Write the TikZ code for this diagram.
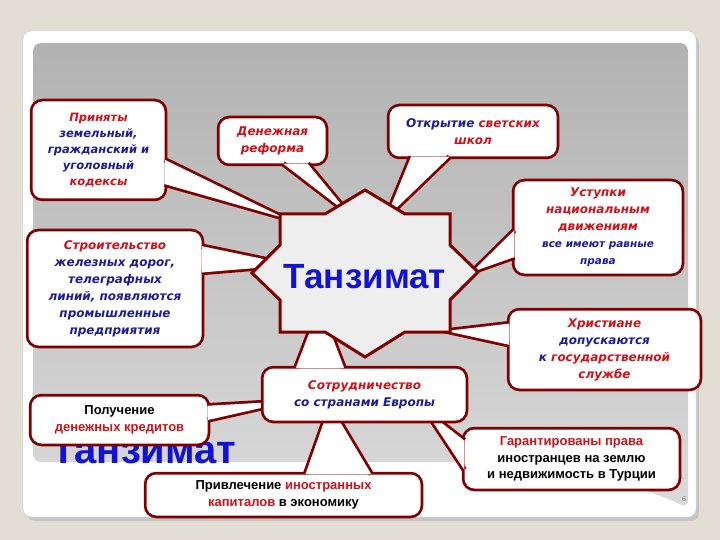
\documentclass[tikz,border=0pt]{standalone}
\usepackage{fontspec}
\setsansfont{Liberation Sans}
\newfontfamily\calfont{DejaVu Sans}
\usetikzlibrary{calc}
\definecolor{boxred}{RGB}{128,0,0}
\definecolor{txtred}{RGB}{205,18,26}
\definecolor{txtblue}{RGB}{28,28,150}
\definecolor{bigblue}{RGB}{18,18,210}
\definecolor{pagebg}{RGB}{227,222,212}
\definecolor{starfill}{RGB}{238,238,238}

\begin{document}
\begin{tikzpicture}[x=1pt,y=-1pt,
	callbox/.style={rectangle,rounded corners=10pt,fill=white,preaction={draw=boxred,line width=5.5pt},align=center,inner sep=1pt},
	wedgeline/.style={draw=boxred,line width=5.5pt,line join=round},
	itxt/.style={font=\calfont\bfseries\itshape\fontsize{12}{17}\selectfont},
	utxt/.style={font=\sffamily\bfseries\fontsize{13}{17}\selectfont}]
	\useasboundingbox (0,0) rectangle (720,540);
	
	%slide------------------------------------------------
	\fill[pagebg] (0,0) rectangle (720,540); %page
	\fill[gray!45,rounded corners=8pt] (27,35) rectangle (699,521); %shadow
	\draw[gray!40,fill=white,rounded corners=8pt] (23,31) rectangle (696,517); %frame
	\shade[top color={rgb,255:red,178;green,178;blue,178},bottom color={rgb,255:red,218;green,218;blue,218},rounded corners=8pt] (33,43) -- (688,43) -- (688,508) .. controls (640,485) and (560,463) .. (450,462) -- (33,462) -- cycle; %panel
	\node[anchor=base west,inner sep=0pt,text=bigblue,font=\sffamily\bfseries\fontsize{40}{40}\selectfont] (wm) at (51,463) {Танзимат}; %big title
	\node[text=gray,font=\sffamily\fontsize{7}{7}\selectfont] (pgno) at (684,499) {6}; %page number
	
	%tips
	\coordinate (tPolu) at (292,401);
	\coordinate (tPrivl) at (330,405);
	\coordinate (tGarant) at (425,410);
	\coordinate (tPrin) at (284,218);
	\coordinate (tDen) at (350,215);
	\coordinate (tOtk) at (386,218);
	\coordinate (tUst) at (472,272);
	\coordinate (tStroi) at (292,265);
	\coordinate (tHrist) at (446,331);
	\coordinate (tSotr) at (320,305);
	
	%lower boxes------------------------------------------
	\node[callbox,utxt,minimum width=176pt,minimum height=47pt] (polu) at (119.5,420) {Получение\\\textcolor{txtred}{денежных кредитов}}; %credits
	\fill[white,preaction={wedgeline}] ($(polu.north east)!0.2!(polu.south east)$) -- (tPolu) -- ($(polu.north east)!0.5!(polu.south east)$);
	\node[callbox,utxt,minimum width=274pt,minimum height=41pt] (privl) at (283.5,495) {Привлечение \textcolor{txtred}{иностранных}\\\textcolor{txtred}{капиталов} в экономику}; %capital
	\fill[white,preaction={wedgeline}] ($(privl.north west)!0.58!(privl.north east)$) -- (tPrivl) -- ($(privl.north west)!0.82!(privl.north east)$);
	\node[callbox,font=\sffamily\bfseries\fontsize{13}{16.5}\selectfont,minimum width=214pt,minimum height=59pt] (garant) at (571.5,459) {\textcolor{txtred}{Гарантированы права}\\иностранцев на землю\\и недвижимость в Турции}; %land
	\fill[white,preaction={wedgeline}] ($(garant.north west)!0.19!(garant.south west)$) -- (tGarant) -- ($(garant.north west)!0.68!(garant.south west)$);
	
	%boxes round the star---------------------------------
	\node[callbox,text=txtblue,font=\calfont\bfseries\itshape\fontsize{11.5}{16}\selectfont,minimum width=132pt,minimum height=97pt] (prin) at (98.5,150) {\textcolor{txtred}{Приняты}\\земельный,\\гражданский и\\уголовный\\\textcolor{txtred}{кодексы}}; %codes
	\fill[white,preaction={wedgeline}] ($(prin.north east)!0.6!(prin.south east)$) -- (tPrin) -- ($(prin.north east)!0.85!(prin.south east)$);
	\node[callbox,itxt,text=txtred,minimum width=106pt,minimum height=45pt] (den) at (272.5,141) {Денежная\\реформа}; %money
	\fill[white,preaction={wedgeline}] ($(den.south west)!0.6!(den.south east)$) -- (tDen) -- ($(den.south west)!0.83!(den.south east)$);
	\node[callbox,itxt,text=txtred,minimum width=167pt,minimum height=50pt] (otk) at (473,131.5) {\textcolor{txtblue}{Открытие} светских\\школ}; %schools
	\fill[white,preaction={wedgeline}] ($(otk.south west)!0.13!(otk.south east)$) -- (tOtk) -- ($(otk.south west)!0.36!(otk.south east)$);
	\node[callbox,itxt,text=txtred,minimum width=167pt,minimum height=92pt] (ust) at (598,227.5) {Уступки\\национальным\\движениям\\\textcolor{txtblue}{\fontsize{10.5}{17}\selectfont все имеют равные}\\\textcolor{txtblue}{\fontsize{10.5}{17}\selectfont права}}; %nations
	\fill[white,preaction={wedgeline}] ($(ust.north west)!0.53!(ust.south west)$) -- (tUst) -- ($(ust.north west)!0.82!(ust.south west)$);
	\node[callbox,itxt,text=txtblue,minimum width=173pt,minimum height=114pt] (stroi) at (115,288.5) {\textcolor{txtred}{Строительство}\\железных дорог,\\телеграфных\\линий, появляются\\промышленные\\предприятия}; %railways
	\fill[white,preaction={wedgeline}] ($(stroi.north east)!0.13!(stroi.south east)$) -- (tStroi) -- ($(stroi.north east)!0.36!(stroi.south east)$);
	\node[callbox,itxt,text=txtred,minimum width=190pt,minimum height=78pt] (hrist) at (604.5,349.5) {Христиане\\\textcolor{txtblue}{допускаются}\\\textcolor{txtblue}{к} государственной\\службе}; %christians
	\fill[white,preaction={wedgeline}] ($(hrist.north west)!0.17!(hrist.south west)$) -- (tHrist) -- ($(hrist.north west)!0.44!(hrist.south west)$);
	\node[callbox,itxt,text=txtblue,minimum width=202pt,minimum height=52pt] (sotr) at (364.5,394.5) {\textcolor{txtred}{Сотрудничество}\\со странами Европы}; %europe
	\fill[white,preaction={wedgeline}] ($(sotr.north west)!0.16!(sotr.north east)$) -- (tSotr) -- ($(sotr.north west)!0.4!(sotr.north east)$);
	
	%star-------------------------------------------------
	\draw[boxred,line width=3pt,fill=starfill] (365,190) -- (405,214) -- (450,214) -- (450,245) -- (478,272) -- (450,300) -- (450,332) -- (405,332) -- (365,357) -- (325,332) -- (280,332) -- (280,300) -- (252,273) -- (280,245) -- (280,214) -- (325,214) -- cycle; %star
	\node[text=bigblue,font=\sffamily\bfseries\fontsize{35}{35}\selectfont] (tz) at (365,277) {Танзимат}; %title
\end{tikzpicture}
\end{document}
